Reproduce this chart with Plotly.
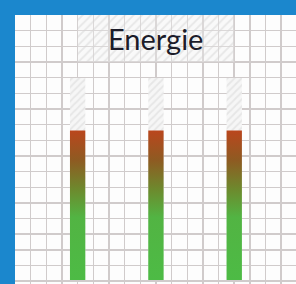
import plotly.graph_objects as go

# ---- data ----
title_text = "Energie"
categories = ["Bar 1", "Bar 2", "Bar 3"]
capacity = [100, 100, 100]      # hatched full height
energy = [74, 74, 74]           # filled (gradient) level

# ---- layout constants ----
W, H = 296, 284
ML, MT = 15, 15
cell_px = 15.66
px_per_unit = 2.02
plot_w = W - ML
plot_h = H - MT
x_max = plot_w / cell_px
y_min = -4 / px_per_unit
y_max = y_min + plot_h / px_per_unit
y_dtick = cell_px / px_per_unit
bar_w = 0.98
first_pos, step = 4, 5

fig = go.Figure()

positions = [first_pos + step * i for i in range(len(categories))]

# hatched capacity bars
fig.add_trace(go.Bar(
    x=positions, y=capacity, width=bar_w,
    marker=dict(color="#f4f4f4", line=dict(width=0),
                pattern=dict(shape="/", fgcolor="#d6d6d6", bgcolor="#f6f6f6",
                             size=5, solidity=0.35)),
    hoverinfo="skip", showlegend=False,
))

cscale = [[0, "#4dbb45"], [0.42, "#52b443"], [0.6, "#6c8b2e"],
          [0.8, "#8e5b22"], [1, "#ba461d"]]

for p, v, name in zip(positions, energy, categories):
    xs = [p - bar_w / 2, p + bar_w / 2, p + bar_w / 2, p - bar_w / 2, p - bar_w / 2]
    ys = [0, 0, v, v, 0]
    fig.add_trace(go.Scatter(
        x=xs, y=ys, mode="lines", line=dict(width=0),
        fill="toself",
        fillgradient=dict(type="vertical", colorscale=cscale, start=0, stop=v),
        name=name, showlegend=False, hoverinfo="skip",
    ))

# hatched title box (transparent so grid shows through)
tb_x0, tb_x1 = positions[0], positions[-1]
tb_y1 = y_max
tb_y0 = y_max - 3 * y_dtick
fig.add_trace(go.Scatter(
    x=[tb_x0, tb_x1, tb_x1, tb_x0, tb_x0],
    y=[tb_y0, tb_y0, tb_y1, tb_y1, tb_y0],
    mode="lines", line=dict(width=0), fill="toself",
    fillcolor="rgba(0,0,0,0)",
    fillpattern=dict(shape="/", fgcolor="#d3d3d3", bgcolor="rgba(240,240,240,0.35)",
                     size=6, solidity=0.3),
    hoverinfo="skip", showlegend=False,
))

fig.add_annotation(
    x=(tb_x0 + tb_x1) / 2, y=(tb_y0 + tb_y1) / 2,
    text=title_text, showarrow=False,
    font=dict(family="Lato", size=29, color="#1c1c2a"),
    xanchor="center", yanchor="middle",
)

grid_color = "#d0cbcb"
fig.update_layout(
    width=W, height=H,
    margin=dict(l=ML, r=0, t=MT, b=0, pad=0),
    paper_bgcolor="#1b87cd",
    plot_bgcolor="#fdfdfd",
    barmode="overlay",
    xaxis=dict(range=[0, x_max], tickmode="linear", tick0=0, dtick=1, showgrid=True,
               gridcolor=grid_color, gridwidth=1.5, showticklabels=False,
               zeroline=False, showline=False, ticks="", fixedrange=True),
    yaxis=dict(range=[y_min, y_max], tickmode="linear", tick0=y_max, dtick=y_dtick,
               showgrid=True, gridcolor=grid_color, gridwidth=1.5, showticklabels=False,
               zeroline=False, showline=False, ticks="", fixedrange=True),
)

fig.write_html(
    "out.html",
    config={"displayModeBar": False, "staticPlot": True},
    post_script="document.body.style.margin='0';document.body.style.overflow='hidden';",
)
